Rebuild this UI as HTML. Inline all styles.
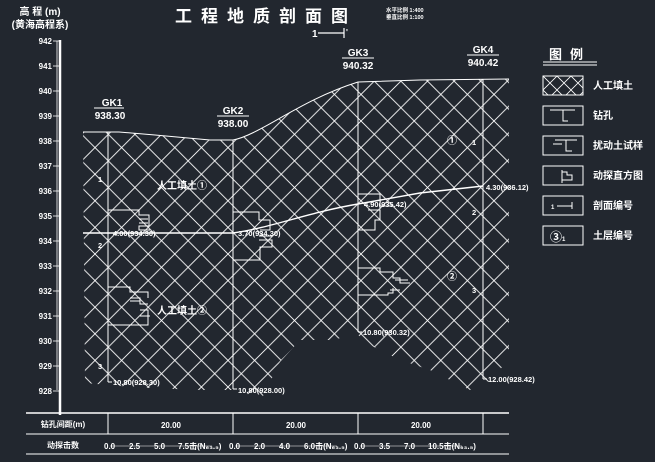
<!DOCTYPE html>
<html><head><meta charset="utf-8"><style>
html,body{margin:0;padding:0;background:#22272f;}
svg{display:block;}
text{font-family:"Liberation Sans","Noto Sans CJK SC",sans-serif;fill:#fff;font-weight:bold;}
</style></head><body>
<svg width="655" height="462" viewBox="0 0 655 462" xmlns="http://www.w3.org/2000/svg">
<defs>
<pattern id="h" width="26.6" height="26.6" patternUnits="userSpaceOnUse" x="95" y="121">
<path d="M0 0L26.6 26.6M26.6 0L0 26.6" stroke="#fff" stroke-width="0.9" fill="none"/>
</pattern>
<pattern id="h2" width="14" height="14" patternUnits="userSpaceOnUse" x="543" y="76">
<path d="M0 0L14 14M14 0L0 14" stroke="#fff" stroke-width="0.8" fill="none"/>
</pattern>
</defs>
<rect width="655" height="462" fill="#22272f"/>

<!-- title -->
<text x="266" y="22" font-size="17" text-anchor="middle" letter-spacing="9">工程地质剖面图</text>
<text x="386" y="12" font-size="5.5">水平比例 1:400</text>
<text x="386" y="19" font-size="5.5">垂直比例 1:100</text>
<text x="312" y="37" font-size="10">1</text>
<line x1="318" y1="33" x2="344" y2="33" stroke="#fff" stroke-width="1.2"/>
<line x1="344" y1="28" x2="344" y2="38" stroke="#fff" stroke-width="1.2"/>
<text x="346" y="35" font-size="8">'</text>

<!-- elevation header -->
<text x="40" y="15" font-size="10" text-anchor="middle">高 程 (m)</text>
<text x="40" y="28" font-size="10" text-anchor="middle">(黄海高程系)</text>

<!-- axis -->
<line x1="60" y1="40" x2="60" y2="415" stroke="#fff" stroke-width="2.5"/>
<line x1="57" y1="41" x2="57" y2="390" stroke="#fff" stroke-width="0.8"/>
<g font-size="8" text-anchor="end">
<text x="52" y="44">942</text><text x="52" y="69">941</text><text x="52" y="94">940</text>
<text x="52" y="119">939</text><text x="52" y="144">938</text><text x="52" y="169">937</text>
<text x="52" y="194">936</text><text x="52" y="219">935</text><text x="52" y="244">934</text>
<text x="52" y="269">933</text><text x="52" y="294">932</text><text x="52" y="319">931</text>
<text x="52" y="344">930</text><text x="52" y="369">929</text><text x="52" y="394">928</text>
</g>
<g stroke="#fff" stroke-width="0.8">
<line x1="53" y1="41" x2="60" y2="41"/><line x1="53" y1="66" x2="60" y2="66"/><line x1="53" y1="91" x2="60" y2="91"/>
<line x1="53" y1="116" x2="60" y2="116"/><line x1="53" y1="141" x2="60" y2="141"/><line x1="53" y1="166" x2="60" y2="166"/>
<line x1="53" y1="191" x2="60" y2="191"/><line x1="53" y1="216" x2="60" y2="216"/><line x1="53" y1="241" x2="60" y2="241"/>
<line x1="53" y1="266" x2="60" y2="266"/><line x1="53" y1="291" x2="60" y2="291"/><line x1="53" y1="316" x2="60" y2="316"/>
<line x1="53" y1="341" x2="60" y2="341"/><line x1="53" y1="366" x2="60" y2="366"/><line x1="53" y1="391" x2="60" y2="391"/>
</g>

<!-- hatch body -->
<path d="M83 132 L119 132 L155 135 L210 140 L233 140 C260 135 300 100 358 82 L420 80 L509 79 L509 360 L485 385 L470 390 L430 370 L400 360 L370 345 L358 335 L330 340 L300 340 L280 362 L262 398 L233 390 L200 390 L150 388 L120 386 L85 383 Z" fill="url(#h)"/>
<path d="M83 132 L119 132 L155 135 L210 140 L233 140 C260 135 300 100 358 82 L420 80 L509 79" fill="none" stroke="#fff" stroke-width="1"/>

<!-- boreholes -->
<g stroke="#fff" stroke-width="1" fill="none">
<line x1="108" y1="132" x2="108" y2="382"/><line x1="108" y1="382" x2="112" y2="382"/>
<line x1="233" y1="140" x2="233" y2="389"/><line x1="233" y1="389" x2="237" y2="389"/>
<line x1="358" y1="82" x2="358" y2="332"/><line x1="358" y1="332" x2="362" y2="332"/>
<line x1="483" y1="79" x2="483" y2="379"/><line x1="483" y1="379" x2="487" y2="379"/>
<path d="M83 233 L233 233 C270 228 310 212 358 204 L420 193 L483 186" stroke-width="1.4"/>
<path d="M108 210 L139 210 L139 215 L149 215 L149 226 L139 226 L139 230 L150 230 M139 219 L148 219 M139 223 L148 223 M108 233"/>
<path d="M108 287 L130 287 L130 292 L148 292 L148 298 M130 298 L140 298 L140 304 L148 304 M130 301 L140 301 M140 310 L148 310 L148 325 L108 325 M140 316 L150 316"/>
<path d="M233 212 L259 212 L259 220 L270 220 L270 230 L260 230 M259 236 L272 236 M259 240 L272 240 L272 247 L260 247 L260 260 L233 260"/>
<path d="M358 194 L380 194 L380 206 L392 206 M368 210 L380 210 L380 220 L375 220 L375 230 L358 230"/>
<path d="M358 268 L380 268 L380 272 L393 272 L393 278 L400 278 L400 283 L410 283 M395 280 L408 280 M393 288 L393 293 L388 293 L388 295 L358 295 M390 290 L400 290"/>
</g>

<g font-size="10" text-anchor="middle">
<text x="112" y="106">GK1</text><line x1="94" y1="108" x2="124" y2="108" stroke="#fff"/><text x="110" y="119">938.30</text>
<text x="233" y="114">GK2</text><line x1="217" y1="116" x2="249" y2="116" stroke="#fff"/><text x="233" y="127">938.00</text>
<text x="358" y="56">GK3</text><line x1="342" y1="58" x2="374" y2="58" stroke="#fff"/><text x="358" y="69">940.32</text>
<text x="483" y="53">GK4</text><line x1="467" y1="55" x2="499" y2="55" stroke="#fff"/><text x="483" y="66">940.42</text>
</g>
<g font-size="7.5">
<text x="113" y="236">4.00(934.30)</text>
<text x="238" y="236">3.70(934.30)</text>
<text x="364" y="207">4.90(935.42)</text>
<text x="486" y="190">4.30(936.12)</text>
<text x="113" y="385">10.80(928.30)</text>
<text x="238" y="393">10.80(928.00)</text>
<text x="363" y="335">10.80(930.32)</text>
<text x="488" y="382">12.00(928.42)</text>
<text x="98" y="182">1</text><text x="98" y="248">2</text><text x="98" y="369">3</text>
<text x="472" y="145">1</text><text x="472" y="215">2</text><text x="472" y="293">3</text>
</g>
<g font-size="10">
<text x="157" y="189">人工填土①</text>
<text x="157" y="314">人工填土②</text>
<text x="447" y="144">①</text>
<text x="447" y="280">②</text>
</g>

<text x="570" y="59" font-size="13" text-anchor="middle" letter-spacing="8">图例</text>
<line x1="543" y1="62" x2="597" y2="62" stroke="#fff"/><line x1="543" y1="65" x2="597" y2="65" stroke="#fff"/>
<g stroke="#fff" stroke-width="1" fill="none">
<rect x="543" y="76" width="40" height="19" fill="url(#h2)"/>
<rect x="543" y="106" width="40" height="19"/>
<path d="M550 110 L575 110 M563 110 L563 121 L568 121"/>
<rect x="543" y="136" width="40" height="19"/>
<path d="M555 140 L577 140 M566 140 L566 151 L572 151 M553 144 L562 144"/>
<rect x="543" y="166" width="40" height="19"/>
<path d="M562 170 L562 183 M562 172 L567 172 L567 175 L572 175 L572 180 L562 180"/>
<rect x="543" y="196" width="40" height="19"/>
<path d="M557 206 L572 206 M572 202 L572 209"/>
<rect x="543" y="226" width="40" height="19"/>
</g>
<text x="551" y="209" font-size="6">1</text>
<text x="550" y="241" font-size="12">③</text><text x="562" y="241" font-size="6">1</text>
<g font-size="10">
<text x="593" y="89">人工填土</text>
<text x="593" y="119">钻孔</text>
<text x="593" y="149">扰动土试样</text>
<text x="593" y="179">动探直方图</text>
<text x="593" y="209">剖面编号</text>
<text x="593" y="239">土层编号</text>
</g>

<g stroke="#fff">
<line x1="26" y1="413" x2="509" y2="413" stroke-width="1.6"/>
<line x1="26" y1="434" x2="509" y2="434"/>
<line x1="26" y1="454" x2="509" y2="454"/>
<line x1="108" y1="413" x2="108" y2="434"/><line x1="233" y1="413" x2="233" y2="434"/>
<line x1="358" y1="413" x2="358" y2="434"/><line x1="483" y1="413" x2="483" y2="434"/>
<line x1="110" y1="446" x2="212" y2="446" stroke-width="0.6"/>
<line x1="235" y1="446" x2="337" y2="446" stroke-width="0.6"/>
<line x1="360" y1="446" x2="462" y2="446" stroke-width="0.6"/>
</g>
<g font-size="8">
<text x="63" y="427" text-anchor="middle">钻孔间距(m)</text>
<text x="63" y="448" text-anchor="middle">动探击数</text>
<text x="171" y="428" text-anchor="middle">20.00</text>
<text x="296" y="428" text-anchor="middle">20.00</text>
<text x="421" y="428" text-anchor="middle">20.00</text>
<text x="104" y="449">0.0</text><text x="129" y="449">2.5</text><text x="154" y="449">5.0</text><text x="178" y="449">7.5击(N₆₃.₅)</text>
<text x="229" y="449">0.0</text><text x="254" y="449">2.0</text><text x="279" y="449">4.0</text><text x="304" y="449">6.0击(N₆₃.₅)</text>
<text x="354" y="449">0.0</text><text x="379" y="449">3.5</text><text x="404" y="449">7.0</text><text x="428" y="449">10.5击(N₆₃.₅)</text>
</g>
</svg>
</body></html>
